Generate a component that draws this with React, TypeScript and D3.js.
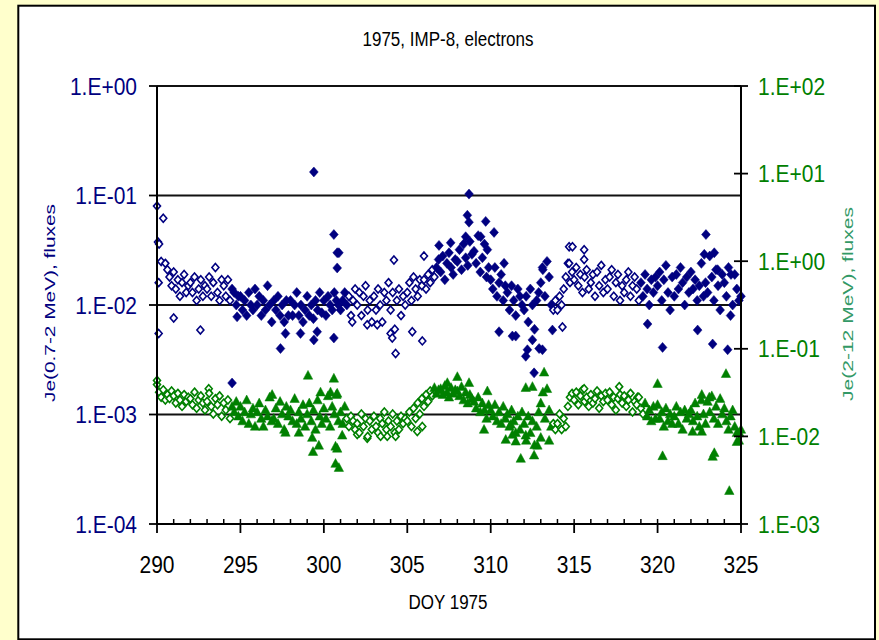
import React from 'react';
import * as d3 from 'd3';

// ---- data (DOY 1975, cadence 0.125 day from DOY 290) ----
const startDoy = 290;
const cadence = 0.125;

// Je(0.7-2 MeV) fluxes, in units of 1e-3 (left axis)
const blueFlux = [
  80, 36, 25, 62, 24, 21, 18, 15,
  20, 14, 17, 12, 16, 19, 13, 15,
  16, 13, 18, 11, 14, 17, 12, 15,
  14, 18, 12, 16, 22, 13, 11, 17,
  15, 12, 17, 11, 14, 13, 10, 12,
  12, 9, 11, 8, 13, 10, 9, 14,
  10, 12, 8, 11, 9, 15, 10, 7,
  11, 9, 12, 8, 10, 7, 11, 8,
  11, 8, 10, 13, 8, 10, 7, 9,
  12, 8, 10, 7.5, 11, 9, 13, 8.5,
  11, 8, 12, 10, 9, 13, 11, 10,
  9, 11, 13, 10, 12, 8, 11, 14,
  10, 13, 8, 12, 15, 9, 11, 7,
  12, 9, 14, 10, 7, 13, 11, 16,
  9, 13, 6, 11, 14, 8, 12, 10,
  13, 16, 11, 18, 14, 12, 17, 15,
  17, 14, 19, 16, 21, 18, 22, 26,
  20, 28, 17, 24, 30, 22, 19, 26,
  25, 32, 21, 36, 27, 23, 38, 29,
  31, 24, 43, 20, 27, 36, 18, 22,
  17, 14, 22, 12, 16, 19, 11, 15,
  13, 9, 15, 11, 8, 14, 12, 10,
  9, 12, 7, 14, 10, 6, 11, 13,
  16, 21, 12, 25, 18, 10, 9, 11,
  9, 12, 10, 14, 18, 24, 16, 20,
  17, 22, 15, 19, 13, 18, 21, 14,
  16, 19, 12, 20, 15, 23, 13, 17,
  14, 18, 21, 12, 16, 19, 11, 15,
  13, 17, 20, 12, 15, 18, 14, 11,
  16, 12, 19, 14, 10, 17, 13, 18,
  15, 20, 11, 17, 23, 13, 9, 18,
  12, 19, 14, 22, 16, 10, 18, 13,
  20, 14, 17, 11, 15, 24, 12, 16,
  13, 28, 18, 11, 21, 15, 9, 19,
  16, 12, 22, 8, 10, 19, 14, 11,
  12,
];
const blueExtraDoy = [
  290.06, 290.1, 290.1, 291.0, 292.6, 294.5, 294.8, 297.4, 297.7, 298.6,
  299.4, 299.6, 299.4, 300.6, 300.8, 300.9, 300.8, 300.6, 304.2, 306.0,
  304.3, 304.1, 304.0, 305.9, 305.3, 302.6, 303.2, 301.7, 308.7, 308.6,
  308.7, 309.7, 310.2, 309.4, 308.5, 306.9, 307.6, 309.8, 310.8, 310.5,
  311.3, 311.5, 312.5, 312.1, 312.6, 312.9, 313.1, 312.2, 313.1, 314.7,
  314.9, 315.6, 315.6, 314.7, 313.7, 314.3, 319.4, 320.3, 322.9, 322.8,
  323.4, 323.6, 323.3, 322.4, 324.2, 324.4,
];
const blueExtraFlux = [
  37.6, 5.5, 16, 7.6, 5.9, 1.94, 7.8, 4.0, 5.5, 5.5,
  4.8, 5.7, 164, 44, 30, 30, 21.8, 5.0, 25.8, 28,
  3.6, 5.0, 5.5, 4.7, 5.7, 6.6, 6.6, 7.0, 103, 66,
  57, 58, 46, 42, 42, 35, 37, 32, 24, 5.7,
  5.2, 5.2, 4.8, 3.4, 2.4, 4.0, 22, 3.9, 3.9, 34,
  34, 32, 26, 24, 5.9, 6.3, 6.7, 4.1, 44, 29,
  30, 21, 4.4, 5.9, 3.9, 19,
];

// Je(2-12 MeV) fluxes, in units of 1e-2 (right axis)
const greenFlux = [
  3.9, 3.2, 2.8, 3.4, 2.6, 3.0, 2.7, 3.3,
  2.9, 2.4, 3.1, 2.6, 2.2, 3.0, 2.5, 2.8,
  2.7, 2.3, 3.2, 2.1, 2.6, 2.9, 2.4, 2.0,
  2.5, 3.1, 2.2, 1.8, 2.7, 2.3, 2.9, 1.7,
  2.4, 2.0, 2.6, 1.6, 2.2, 1.9, 2.5, 1.7,
  2.2, 1.5, 1.9, 2.6, 1.4, 1.8, 2.1, 1.3,
  1.9, 2.4, 1.6, 1.3, 2.0, 1.7, 2.8, 1.5,
  1.6, 2.1, 1.4, 2.5, 1.8, 1.2, 2.2, 1.7,
  2.0, 1.5, 2.7, 1.4, 1.9, 1.6, 2.3, 1.3,
  1.8, 2.4, 1.5, 2.0, 1.2, 2.6, 1.7, 1.4,
  2.1, 1.6, 2.9, 1.3, 2.2, 1.8, 3.0, 1.5,
  1.9, 1.4, 2.2, 1.6, 1.3, 1.7, 1.5, 1.2,
  1.4, 1.1, 1.8, 1.3, 1.6, 1.0, 1.5, 1.2,
  1.7, 1.3, 1.1, 1.6, 1.4, 1.9, 1.2, 1.5,
  1.3, 1.8, 1.1, 1.5, 1.2, 1.7, 1.4, 1.6,
  1.5, 1.9, 1.3, 2.1, 1.6, 2.4, 1.8, 2.7,
  2.2, 3.0, 2.5, 3.3, 2.9, 3.6, 3.1, 3.4,
  3.5, 3.0, 3.8, 3.2, 2.8, 3.6, 3.1, 3.4,
  3.3, 2.9, 3.7, 2.6, 3.2, 2.4, 3.0, 2.7,
  2.5, 2.1, 2.8, 1.9, 2.4, 2.0, 1.6, 2.3,
  2.0, 1.7, 2.3, 1.5, 1.9, 1.4, 2.2, 1.6,
  1.8, 1.3, 2.0, 1.5, 1.1, 1.7, 1.2, 1.9,
  1.4, 0.9, 1.7, 1.1, 1.5, 0.8, 1.3, 1.9,
  2.4, 3.2, 1.6, 3.5, 2.0, 1.3, 1.4, 1.2,
  1.4, 1.8, 1.2, 1.6, 1.3, 2.2, 2.8, 3.1,
  2.6, 3.2, 2.3, 2.9, 3.4, 2.5, 2.8, 2.2,
  3.0, 2.4, 2.7, 3.3, 2.1, 2.9, 2.5, 3.1,
  2.6, 3.2, 2.3, 2.8, 2.0, 2.7, 3.0, 2.4,
  2.9, 2.2, 2.6, 3.1, 1.9, 2.5, 2.3, 2.8,
  2.1, 1.8, 2.4, 1.7, 2.0, 1.5, 2.2, 1.6,
  2.3, 1.6, 1.9, 1.3, 2.1, 1.5, 1.8, 1.4,
  1.7, 2.2, 1.4, 1.9, 1.2, 2.0, 1.6, 1.8,
  2.0, 1.5, 2.4, 1.7, 1.3, 2.6, 1.8, 1.4,
  2.5, 1.9, 2.9, 1.6, 2.2, 1.4, 2.7, 1.8,
  2.1, 1.5, 1.2, 1.7, 2.0, 1.3, 1.1, 0.9,
  1.2,
];
const greenExtraDoy = [
  290.0, 293.1, 299.05, 300.6, 296.9, 299.8, 300.4, 300.8, 297.7, 298.5,
  299.3, 299.7, 299.35, 300.7, 300.8, 300.7, 300.9, 301.1, 302.6, 303.4,
  303.8, 304.3, 305.6, 302.0, 305.9, 308.0, 307.4, 308.7, 309.8, 312.1,
  312.5, 313.2, 309.6, 311.3, 311.5, 312.1, 311.8, 312.6, 312.8, 313.5,
  313.0, 310.9, 311.2, 315.6, 317.7, 318.8, 320.0, 320.3, 324.1, 323.4,
  323.3, 324.3, 324.75, 322.1, 322.65, 322.65, 323.1, 324.9,
];
const greenExtraFlux = [
  4.36, 3.5, 4.97, 4.6, 3.0, 3.2, 3.2, 3.1, 1.11, 1.11,
  0.97, 0.79, 0.67, 0.77, 0.73, 0.49, 0.44, 1.03, 0.95, 1.0,
  1.0, 1.0, 1.14, 1.05, 1.3, 4.8, 4.1, 4.1, 3.3, 3.6,
  3.7, 5.4, 1.2, 1.05, 0.88, 1.03, 0.56, 0.61, 0.79, 0.9,
  0.97, 0.92, 1.37, 3.5, 3.7, 2.8, 4.0, 0.6, 5.2, 0.65,
  0.59, 0.24, 0.87, 1.14, 1.14, 3.0, 2.8, 1.1,
];

// periods plotted with open diamonds
const blueOpenPeriods = [[290, 294.4], [301.4, 306.7], [313.75, 318.9]];
const greenOpenPeriods = [[290, 294.45], [301.3, 306.6], [313.75, 319.2]];

const leftTicks = [1e-4, 1e-3, 1e-2, 1e-1, 1];
const rightTicks = [1e-3, 1e-2, 1e-1, 1, 10, 100];
const xMajorTicks = [290, 295, 300, 305, 310, 315, 320, 325];

const BLUE_UNIT = 1e-3;
const GREEN_UNIT = 1e-2;

const NAVY = '#000080';
const GREEN = '#008000';
const FONT = '"Liberation Sans", Arial, sans-serif';

function fmtExp(v: number) {
  const e = Math.round(Math.log10(v));
  return `1.E${e < 0 ? '-' : '+'}${String(Math.abs(e)).padStart(2, '0')}`;
}

function inPeriods(d: number, periods: number[][]) {
  return periods.some(([a, b]) => d >= a && d <= b);
}

type Pt = { doy: number; v: number; open: boolean };

function buildSeries(main: number[], exDoy: number[], exVal: number[], unit: number, periods: number[][]): Pt[] {
  const pts: Pt[] = main.map((v, i) => {
    const doy = startDoy + i * cadence;
    return { doy, v: v * unit, open: inPeriods(doy, periods) };
  });
  exDoy.forEach((d, i) => pts.push({ doy: d, v: exVal[i] * unit, open: inPeriods(d, periods) }));
  return pts.sort((a, b) => a.doy - b.doy);
}

const DIAMOND = 'M0,-5L4.4,0L0,5L-4.4,0Z';
const DIAMOND_OPEN = 'M0,-4L3.5,0L0,4L-3.5,0Z';
const TRIANGLE = 'M0,-5L4.7,3.8L-4.7,3.8Z';

export default function App() {
  const left = 157, right = 741, top = 86, bottom = 524;
  const x = d3.scaleLinear().domain([290, 325]).range([left, right]);
  const yL = d3.scaleLog().domain([1e-4, 1]).range([bottom, top]);
  const yR = d3.scaleLog().domain([1e-3, 1e2]).range([bottom, top]);

  const blue = buildSeries(blueFlux, blueExtraDoy, blueExtraFlux, BLUE_UNIT, blueOpenPeriods);
  const green = buildSeries(greenFlux, greenExtraDoy, greenExtraFlux, GREEN_UNIT, greenOpenPeriods);
  const minorTicks = d3.range(290, 326, 1);

  return (
    <svg width={879} height={640} style={{ position: 'absolute', left: 0, top: 0, display: 'block' }}
      fontFamily={FONT}>
      <rect x={0} y={0} width={879} height={640} fill="#FFFFCC" />
      <rect x={18.3} y={5.7} width={856.7} height={633.6} fill="#fff" stroke="#000" strokeWidth={2} />

      {/* title */}
      <text transform={`translate(448,46) scale(1,1.22)`} textAnchor="middle" fontSize={17} fill="#000">
        1975, IMP-8, electrons
      </text>

      {/* gridlines */}
      {leftTicks.filter(t => t > 1e-4).map(t => (
        <line key={'g' + t} x1={left} x2={right} y1={yL(t)} y2={yL(t)} stroke="#111" strokeWidth={1.8} />
      ))}

      {/* data: blue */}
      {blue.map((p, i) => (
        <path key={'b' + i} transform={`translate(${x(p.doy)},${yL(p.v)})`}
          d={p.open ? DIAMOND_OPEN : DIAMOND}
          fill={p.open ? '#fff' : NAVY} stroke={NAVY} strokeWidth={p.open ? 1.6 : 0.5} />
      ))}
      {/* data: green */}
      {green.map((p, i) => (
        <path key={'gr' + i} transform={`translate(${x(p.doy)},${yR(p.v)})`}
          d={p.open ? DIAMOND_OPEN : TRIANGLE}
          fill={p.open ? '#fff' : GREEN} stroke={GREEN} strokeWidth={p.open ? 1.6 : 0.5} />
      ))}

      {/* axes lines */}
      <line x1={left} x2={left} y1={top} y2={bottom} stroke="#000" strokeWidth={2} />
      <line x1={right} x2={right} y1={top} y2={bottom} stroke="#000" strokeWidth={2} />
      <line x1={left} x2={right} y1={bottom} y2={bottom} stroke="#000" strokeWidth={2} />

      {/* left ticks */}
      {leftTicks.map(t => (
        <g key={'lt' + t}>
          <line x1={left - 8} x2={left} y1={yL(t)} y2={yL(t)} stroke="#000" strokeWidth={1.8} />
          <text transform={`translate(137,${yL(t) + 8.5}) scale(1,1.15)`} textAnchor="end" fontSize={21} fill={NAVY}>
            {fmtExp(t)}
          </text>
        </g>
      ))}
      {/* right ticks */}
      {rightTicks.map(t => (
        <g key={'rt' + t}>
          <line x1={right - 7} x2={right + 7} y1={yR(t)} y2={yR(t)} stroke="#000" strokeWidth={1.8} />
          <text transform={`translate(758,${yR(t) + 8.5}) scale(1,1.15)`} textAnchor="start" fontSize={21} fill={GREEN}>
            {fmtExp(t)}
          </text>
        </g>
      ))}
      {/* x ticks */}
      {minorTicks.map(t => (
        <line key={'mx' + t} x1={x(t)} x2={x(t)} y1={bottom - 5} y2={bottom} stroke="#000" strokeWidth={1.5} />
      ))}
      {xMajorTicks.map(t => (
        <g key={'xt' + t}>
          <line x1={x(t)} x2={x(t)} y1={bottom} y2={bottom + 9} stroke="#000" strokeWidth={1.8} />
          <text transform={`translate(${x(t)},573) scale(1,1.15)`} textAnchor="middle" fontSize={21} fill="#000">
            {t}
          </text>
        </g>
      ))}

      {/* axis titles */}
      <text transform={`translate(448,609) scale(1,1.22)`} textAnchor="middle" fontSize={17} fill="#000">
        DOY 1975
      </text>
      <text transform={`translate(55,303) rotate(-90)`} textAnchor="middle" fontSize={15.5} fill={NAVY}
        textLength={198} lengthAdjust="spacingAndGlyphs">
        Je(0.7-2 MeV), fluxes
      </text>
      <text transform={`translate(853,304) rotate(-90)`} textAnchor="middle" fontSize={15.5} fill="#339966"
        textLength={194} lengthAdjust="spacingAndGlyphs">
        Je(2-12 MeV), fluxes
      </text>
    </svg>
  );
}
